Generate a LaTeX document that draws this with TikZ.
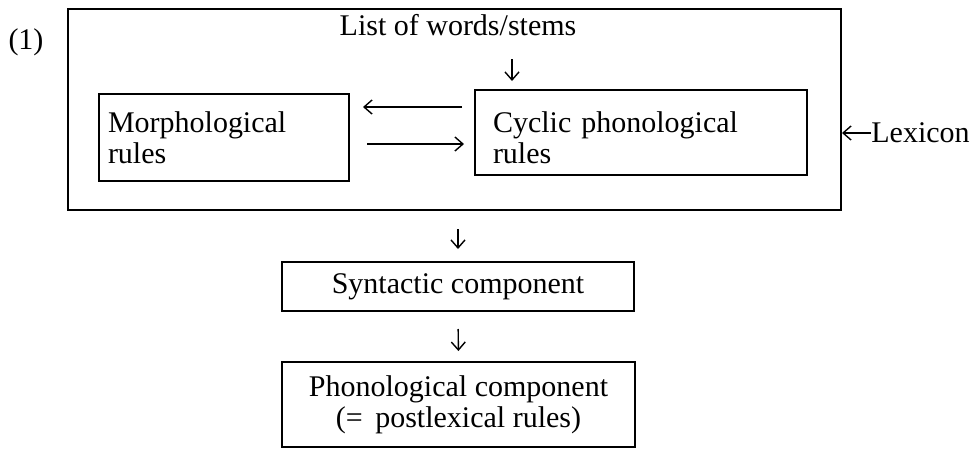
\documentclass[tikz,border=0pt]{standalone}
\usepackage{fontspec}
\setmainfont{Liberation Serif}
\usepackage{tikz}
\usetikzlibrary{arrows.meta, calc, positioning}

\begin{document}
\begin{tikzpicture}[>={Straight Barb[length=4pt,width=7pt]}, x=0.5pt, y=-0.5pt,
        font=\fontsize{15}{15.5}\selectfont,
        box/.style={draw, line width=1pt, inner sep=0pt},
        conn/.style={->, line width=0.7pt}]

            \useasboundingbox (0,0) rectangle (971,450);

            \node (num) at (26,42) {(1)};

            \node[box, minimum width=386.5pt, minimum height=100.5pt] (lexbox) at (454.5,109.5) {};
            \node[inner sep=0pt] (list) at (458,25) {List of words/stems};

            \node[box, align=left, text width=116pt, inner xsep=4.5pt, minimum height=43.5pt] (mor) at (224,137.5) {Morphological\\rules};
            \node[box, align=left, text width=148pt, inner xsep=9pt, minimum height=42.5pt] (cyc) at (641,132.5) {\rule{0pt}{15.5pt}Cyclic phonological\\rules};

            \node[inner sep=0pt, anchor=west] (lex) at (871,133) {Lexicon};

            \node[box, minimum width=176pt, minimum height=24.5pt] (syn) at (458,286.5) {Syntactic component};
            \node[box, align=center, minimum width=176.5pt, minimum height=42.5pt] (pho) at (458.5,404.5) {Phonological component\\(= \,postlexical rules)};

            \coordinate (lsx) at (512,0);
            \coordinate (top) at (0,107);
            \coordinate (bot) at (0,144);

            % Connections: inside the lexicon
            \draw[conn, shorten <=11.5pt, shorten >=4pt] (list.south -| lsx) -- (cyc.north -| lsx);
            \draw[conn, shorten <=6pt, shorten >=6.5pt] (cyc.west |- top) -- (mor.east |- top);
            \draw[conn, shorten <=8.5pt, shorten >=5pt] (mor.east |- bot) -- (cyc.west |- bot);
            \draw[conn] (lex.west) -- (lexbox.east |- lex.west);

            % Connections: down the components
            \draw[conn, shorten <=9pt, shorten >=6pt] (lexbox.south -| syn.north) -- (syn.north);
            \draw[conn, shorten <=8.5pt, shorten >=5pt] (syn.south) -- (pho.north);

        \end{tikzpicture}
\end{document}
